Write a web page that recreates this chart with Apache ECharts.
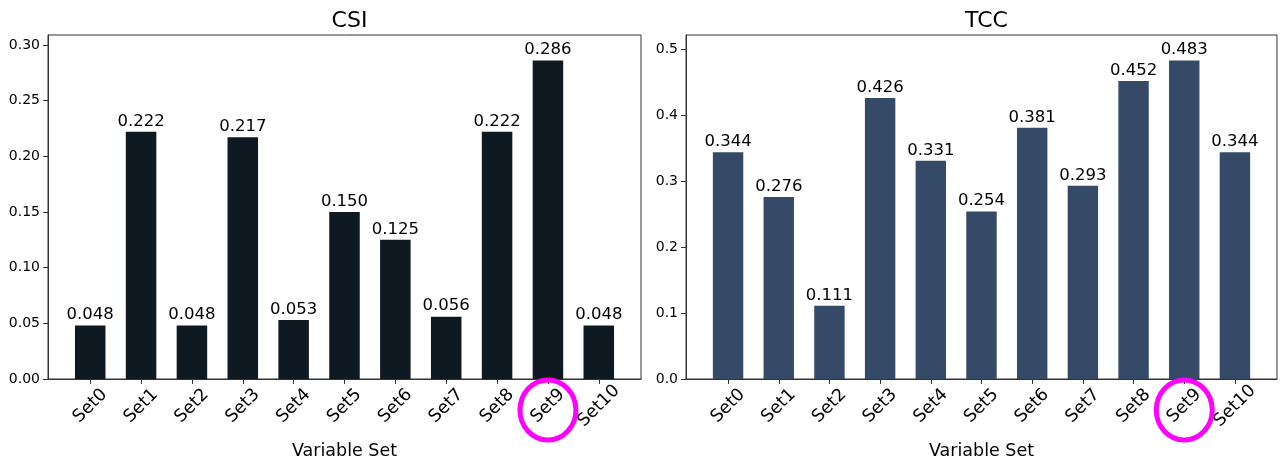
<!DOCTYPE html>
<html>
<head>
<meta charset="utf-8">
<script src="https://cdn.jsdelivr.net/npm/echarts@6/dist/echarts.min.js"></script>
<style>html,body{margin:0;padding:0;background:#fff}#c{width:1281px;height:463px}</style>
</head>
<body>
<div id="c"></div>
<script>
const categories = ['Set0','Set1','Set2','Set3','Set4','Set5','Set6','Set7','Set8','Set9','Set10'];
const csiValues = [0.048,0.222,0.048,0.217,0.053,0.150,0.125,0.056,0.222,0.286,0.048];
const tccValues = [0.344,0.276,0.111,0.426,0.331,0.254,0.381,0.293,0.452,0.483,0.344];
const csiTicks = [0,0.05,0.10,0.15,0.20,0.25,0.30];
const tccTicks = [0,0.1,0.2,0.3,0.4,0.5];
const titles = ['CSI','TCC'];
const xName = 'Variable Set';
const highlightIndex = 9;

const FONT = 'DejaVu Sans';
const grids = [
  {left: 48, top: 35, width: 593, height: 344},
  {left: 686, top: 35, width: 591, height: 344}
];
const xMin = -0.83, xMax = 10.83;
const idx = categories.map((c,i)=>i);

function xAxisFor(g){
  return {
    type:'value', gridIndex:g, min:xMin, max:xMax, position:'bottom',
    name:xName, nameLocation:'middle', nameGap:63,
    nameTextStyle:{fontFamily:FONT, fontSize:17.5, color:'#000'},
    axisLine:{show:true, onZero:false, lineStyle:{color:'#333', width:1}},
    axisTick:{show:true, customValues:idx, length:5, lineStyle:{color:'#333'}},
    axisLabel:{customValues:idx, rotate:45, align:'center', verticalAlign:'middle',
      fontFamily:FONT, fontSize:17.5, color:'#000', margin:27, hideOverlap:false,
      formatter:v=>categories[Math.round(v)]},
    splitLine:{show:false}
  };
}
function yAxisFor(g, ticks, maxV, dec){
  return {
    type:'value', gridIndex:g, min:0, max:maxV, position:'left',
    axisLine:{show:true, onZero:false, lineStyle:{color:'#333', width:1}},
    axisTick:{show:true, customValues:ticks, length:5, lineStyle:{color:'#333'}},
    axisLabel:{customValues:ticks, fontFamily:FONT, fontSize:14, color:'#000', margin:8,
      formatter:v=>v.toFixed(dec)},
    splitLine:{show:false}
  };
}
const csiMax = Math.max(...csiValues)*1.08;
const tccMax = Math.max(...tccValues)*1.08;

function barSeries(g, vals, color){
  const bw = 0.6*grids[g].width/(xMax-xMin);
  return {
    type:'bar', xAxisIndex:g, yAxisIndex:g, barWidth:bw,
    data: vals.map((v,i)=>[i,v]),
    itemStyle:{color:color},
    label:{show:true, position:'top', distance:2, fontFamily:FONT, fontSize:16.5, color:'#000',
      formatter:p=>p.value[1].toFixed(3)},
    animation:false
  };
}

const chart = echarts.init(document.getElementById('c'), null, {renderer:'canvas'});
chart.setOption({
  animation:false,
  backgroundColor:'#fff',
  title: titles.map((t,i)=>({
    text:t, left: grids[i].left + grids[i].width/2, top:5, textAlign:'center',
    textStyle:{fontFamily:FONT, fontSize:22, fontWeight:'normal', color:'#000'}
  })),
  grid: grids.map(g=>Object.assign({show:true, borderColor:'#333', borderWidth:1, backgroundColor:'#fff',
    containLabel:false, outerBoundsMode:'none'}, g)),
  xAxis:[xAxisFor(0), xAxisFor(1)],
  yAxis:[yAxisFor(0, csiTicks, csiMax, 2), yAxisFor(1, tccTicks, tccMax, 1)],
  series:[barSeries(0, csiValues, '#0f1921'), barSeries(1, tccValues, '#344a66')]
});

// highlight circles around the Set9 tick labels
const ellipses = [0,1].map(g=>{
  const px = chart.convertToPixel({xAxisIndex:g, yAxisIndex:g}, [highlightIndex, 0]);
  return {
    type:'ellipse', shape:{cx:px[0], cy:px[1]+31, rx:28, ry:30},
    style:{fill:'none', stroke:'#ff00ff', lineWidth:5}, z:100
  };
});
chart.setOption({graphic: ellipses});
</script>
</body>
</html>
